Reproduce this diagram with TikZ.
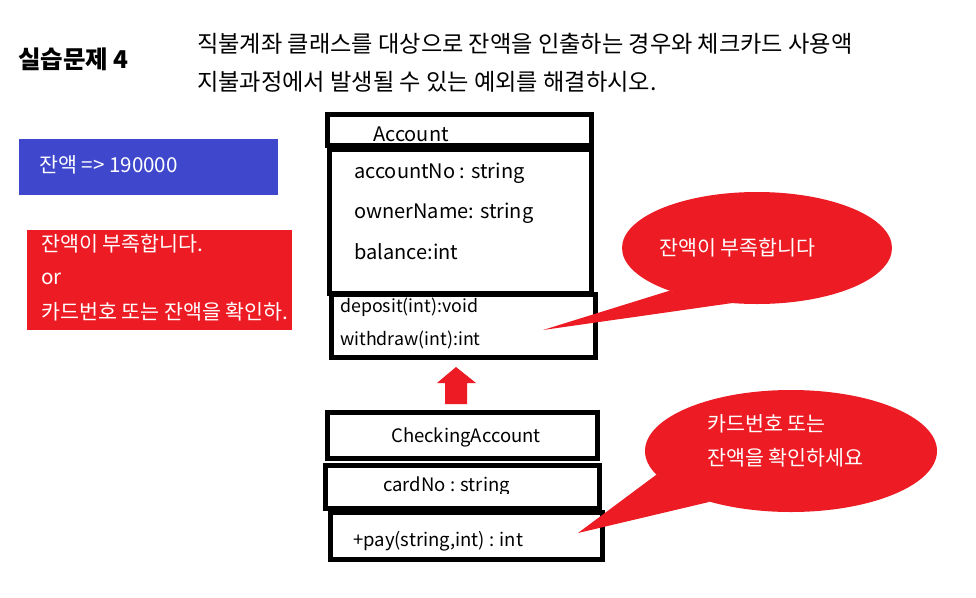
\documentclass[tikz,border=0pt]{standalone}
\usepackage{fontspec}
\setmainfont{Noto Sans CJK KR}
\usetikzlibrary{fit,shapes.geometric}
\definecolor{pred}{HTML}{ED1C24}
\definecolor{pblue}{HTML}{3F48CC}
\tikzset{
  box/.style={draw=black, line width=5pt, inner sep=0pt},
  txt/.style={anchor=west, inner sep=0pt, font=\fontsize{18.5}{20}\selectfont},
  atxt/.style={txt, font=\fontsize{20}{22}\selectfont},
  wtxt/.style={txt, text=white, font=\fontsize{20.6}{22}\selectfont},
  bubble/.style={ellipse, fill=pred, inner sep=0pt},
}
\begin{document}
\begin{tikzpicture}[x=1pt,y=-1pt]
\useasboundingbox (0,0) rectangle (976,597);
\fill[white] (0,0) rectangle (976,597);
% title
\node[anchor=west, inner sep=0pt, font=\fontsize{24.5}{26}\bfseries\selectfont] (title) at (18,59) {실습문제 4};
\node[anchor=west, inner sep=0pt, font=\fontsize{23.2}{25}\selectfont] (q1) at (197,44) {직불계좌 클래스를 대상으로 잔액을 인출하는 경우와 체크카드 사용액};
\node[anchor=west, inner sep=0pt, font=\fontsize{23.2}{25}\selectfont] (q2) at (197,82) {지불과정에서 발생될 수 있는 예외를 해결하시오.};
% blue box
\node[fill=pblue, inner sep=0pt, fit={(19,139) (278,195)}] (bal) {};
\node[wtxt] (baltxt) at (39,165) {잔액 => 190000};
% red box
\node[fill=pred, inner sep=0pt, fit={(27,230) (292,330)}] (err) {};
\begin{scope}
\clip (27,230) rectangle (292,330);
\node[wtxt] (e1) at (41,244) {잔액이 부족합니다.};
\node[wtxt] (e2) at (41,279) {or};
\node[wtxt] (e3) at (41,312) {카드번호 또는 잔액을 확인하.};
\end{scope}
% Account class
\node[box, fit={(327.5,114.5) (591.5,145)}] (acc) {};
\node[atxt] (accname) at (373,134) {Account};
\node[box, fit={(329.5,149.5) (591.5,293)}] (accattr) {};
\node[atxt] (a1) at (354,173) {accountNo : string};
\node[atxt] (a2) at (354,213) {ownerName: string};
\node[atxt] (a3) at (354,252) {balance:int};
\node[box, fit={(331,294.5) (595.5,357.5)}] (accmeth) {};
\node[txt, font=\fontsize{17.8}{19}\selectfont] (m1) at (340,307) {deposit(int):void};
\node[txt, font=\fontsize{17.8}{19}\selectfont] (m2) at (340,340) {withdraw(int):int};
% inheritance arrow
\fill[pred] (456,367) -- (476,383) -- (467,383) -- (467,404) -- (445,404) -- (445,383) -- (437,383) -- cycle;
% CheckingAccount class
\node[box, fit={(327.5,412.5) (597.5,458)}] (chk) {};
\node[txt] (chkname) at (391,437) {CheckingAccount};
\node[box, fit={(325.5,465.5) (599.5,508)}] (chkattr) {};
\begin{scope}
\clip (330,470) rectangle (595,493);
\node[txt] (c1) at (383,486) {cardNo : string};
\end{scope}
\node[box, fit={(330.5,512.5) (602.5,559.5)}] (chkmeth) {};
\node[txt] (c2) at (353,541) {+pay(string,int) : int};
% callout 1
\node[bubble, minimum width=270, minimum height=112] (b1) at (757,248) {};
\coordinate (t1) at (543,330);
\fill[pred] (b1.206) -- (t1) -- (b1.245) -- cycle;
\node[wtxt] (b1txt) at (659,248) {잔액이 부족합니다};
% callout 2
\node[bubble, minimum width=292, minimum height=122] (b2) at (791,451) {};
\coordinate (t2) at (578,533);
\fill[pred] (b2.190) -- (t2) -- (b2.212) -- cycle;
\node[wtxt] (b2a) at (707,424) {카드번호 또는};
\node[wtxt] (b2b) at (707,458) {잔액을 확인하세요};
\end{tikzpicture}
\end{document}
